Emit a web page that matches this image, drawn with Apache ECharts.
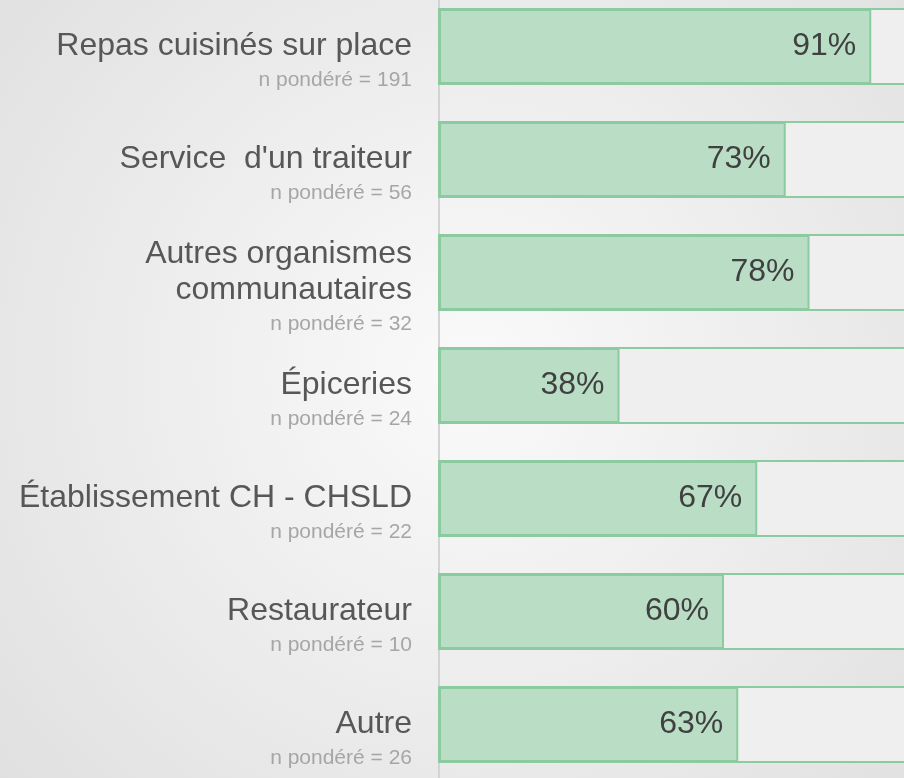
<!DOCTYPE html>
<html>
<head>
<meta charset="utf-8">
<script src="https://cdn.jsdelivr.net/npm/echarts@6/dist/echarts.min.js"></script>
<style>
html, body { margin: 0; padding: 0; }
#chart { width: 904px; height: 778px; }
</style>
</head>
<body>
<div id="chart"></div>
<script>
// catégories (de haut en bas)
var categories = [
  'Repas cuisinés sur place',
  'Service  d\'un traiteur',
  'Autres organismes\ncommunautaires',
  'Épiceries',
  'Établissement CH - CHSLD',
  'Restaurateur',
  'Autre'
];
// n pondéré sous chaque libellé
var nPonderes = [191, 56, 32, 24, 22, 10, 26];
// pourcentages
var pourcentages = [91, 73, 78, 38, 67, 60, 63];

var police = '"Liberation Sans", Arial, Helvetica, sans-serif';
var vert = '#8ccb9f';

var chart = echarts.init(document.getElementById('chart'));
chart.setOption({
  backgroundColor: {
    type: 'radial', x: 0.52, y: 0.48, r: 0.8,
    colorStops: [
      { offset: 0, color: '#fafafa' },
      { offset: 1, color: '#e0e0e0' }
    ]
  },
  textStyle: { fontFamily: police },
  // la grille déborde un peu du cadre (piste à 100% coupée à droite)
  grid: { left: 439, top: -10, width: 475, height: 791, outerBoundsMode: 'none', containLabel: false },
  xAxis: { type: 'value', min: 0, max: 100, show: false },
  yAxis: {
    type: 'category',
    inverse: true,
    data: categories,
    axisTick: { show: false },
    axisLine: { show: true, lineStyle: { color: '#d3d3d3', width: 2 } },
    axisLabel: {
      interval: 0,
      margin: 27,
      formatter: function (value, index) {
        // ligne vide en haut pour centrer le libellé sur la barre
        var lignes = value.split('\n').map(function (l) { return '{a|' + l + '}'; });
        return '{e| }\n' + lignes.join('\n') + '\n{b|n pondéré = ' + nPonderes[index] + '}';
      },
      rich: {
        e: { fontSize: 2, lineHeight: 32 },
        a: { fontSize: 32, lineHeight: 36, color: '#575757', fontFamily: police },
        b: { fontSize: 21, lineHeight: 32, color: '#a6a6a6', fontFamily: police }
      }
    }
  },
  series: [
    {
      type: 'bar',
      data: pourcentages,
      barWidth: 75,
      showBackground: true,
      backgroundStyle: { color: '#efefef', borderColor: vert, borderWidth: 2 },
      itemStyle: { color: '#b9dec5', borderColor: vert, borderWidth: 2 },
      label: {
        show: true,
        position: 'insideRight',
        distance: 15,
        formatter: '{c}%',
        fontSize: 32,
        color: '#404040',
        fontFamily: police
      },
      silent: true
    }
  ]
});
</script>
</body>
</html>
